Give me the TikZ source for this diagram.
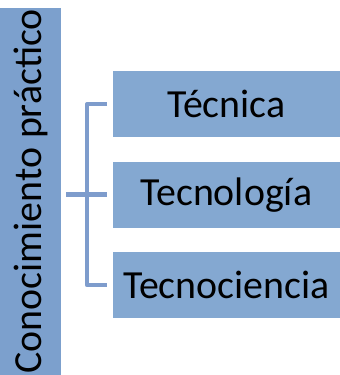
\documentclass[tikz,border=0pt]{standalone}
\usepackage{fontspec}
\setmainfont{Carlito}
\usetikzlibrary{positioning}
\definecolor{barblue}{RGB}{124,160,205}
\definecolor{boxblue}{RGB}{132,168,209}
\definecolor{lineblue}{RGB}{126,156,204}
\tikzset{
    rootbar/.style={rectangle,fill=barblue,inner sep=0pt,minimum width=61bp,minimum height=367bp},
    item/.style={rectangle,fill=boxblue,inner sep=0pt,minimum width=227bp,minimum height=66bp,font=\fontsize{40}{41}\selectfont},
    bracket/.style={-,draw=lineblue,line width=4.5bp,line join=round}
}

\begin{document}
\begin{tikzpicture}

                \useasboundingbox (0,0) rectangle (340bp,375bp);

                \node[rootbar] (root) [anchor=south west] at (0,0) {};
                \node[rotate=90,font=\fontsize{40}{41}\selectfont] (root text) at (root.center) {Conocimiento práctico};

                \node[item] (item 1) [anchor=north east] at (340bp,304bp) {Técnica};
                \node[item] (item 2) [below=24bp of item 1]                {Tecnología};
                \node[item] (item 3) [below=24bp of item 2]                {Tecnociencia};

                \coordinate (stub) at ([xshift=5bp]root.east);
                \coordinate (spine) at ([xshift=-25.5bp]item 1.west);

                \draw[bracket] ([xshift=-5.5bp]item 1.west) -| (spine |- item 3.west) -- ([xshift=-5.5bp]item 3.west);
                \draw[bracket] (stub |- item 2.west) -- ([xshift=-5.5bp]item 2.west);

            \end{tikzpicture}
\end{document}
